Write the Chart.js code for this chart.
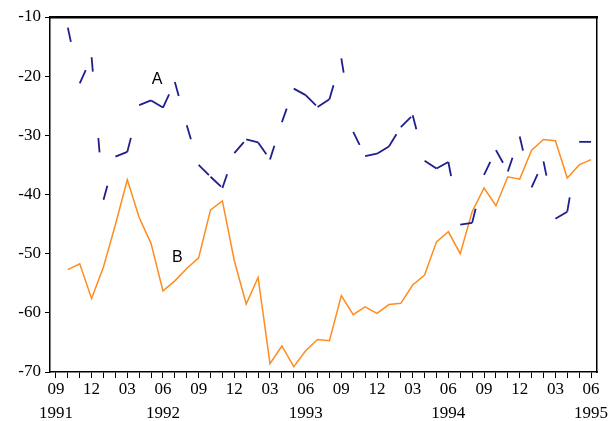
<!DOCTYPE html>
<html>
<head>
<meta charset="utf-8">
<script src="https://cdn.jsdelivr.net/npm/chart.js@4.4.1/dist/chart.umd.min.js"></script>
<style>
  html, body { margin: 0; padding: 0; background: #ffffff; }
  #wrap { width: 611px; height: 421px; position: relative; }
</style>
</head>
<body>
<div id="wrap"><canvas id="c" width="611" height="421"></canvas></div>
<script>
// Monthly categories, Sep 1991 .. Jun 1995
const categories = [
  '1991-09','1991-10','1991-11','1991-12',
  '1992-01','1992-02','1992-03','1992-04','1992-05','1992-06','1992-07','1992-08','1992-09','1992-10','1992-11','1992-12',
  '1993-01','1993-02','1993-03','1993-04','1993-05','1993-06','1993-07','1993-08','1993-09','1993-10','1993-11','1993-12',
  '1994-01','1994-02','1994-03','1994-04','1994-05','1994-06','1994-07','1994-08','1994-09','1994-10','1994-11','1994-12',
  '1995-01','1995-02','1995-03','1995-04','1995-05','1995-06'
];

// Series A (dashed, navy)
const seriesA = [
  null, -11.8, -21.2, -16.8,
  -40.9, -33.6, -32.8, -24.9, -24.1, -25.3, -21.0, -28.3, -35.0, -37.0, -38.9, -33.0,
  -30.7, -31.2, -34.1, -27.8, -22.1, -23.2, -25.2, -23.9, -17.0, -29.4, -33.5, -33.1,
  -31.9, -28.6, -26.6, -34.3, -35.6, -34.5, -45.1, -44.8, -36.7, -32.5, -36.1, -30.2,
  -38.8, -34.4, -44.1, -42.9, -31.1, -31.1
];

// Series B (solid, orange)
const seriesB = [
  null, -52.7, -51.7, -57.6,
  -52.2, -45.1, -37.5, -43.9, -48.3, -56.3, -54.6, -52.5, -50.7, -42.6, -41.1, -51.2,
  -58.5, -54.0, -68.6, -65.6, -69.1, -66.4, -64.5, -64.7, -57.1, -60.3, -59.0, -60.1,
  -58.6, -58.4, -55.3, -53.6, -48.0, -46.3, -50.0, -42.9, -38.9, -41.9, -37.0, -37.4,
  -32.5, -30.7, -30.9, -37.2, -35.0, -34.1
];

// Month tick labels shown every 3 months, and year labels under selected months
const labelledMonths = ['03', '06', '09', '12'];
const yearTickCats = ['1991-09', '1992-06', '1993-06', '1994-06', '1995-06'];
const yearTickText = ['1991', '1992', '1993', '1994', '1995'];

const yTicks = [-70, -60, -50, -40, -30, -20, -10];

const serif = "'Liberation Serif', 'Times New Roman', serif";
const sans = "'Liberation Sans', Arial, sans-serif";

const seriesLabels = {
  id: 'seriesLabels',
  afterDatasetsDraw(chart, args, opts) {
    const ctx = chart.ctx;
    const xs = chart.scales.x, ys = chart.scales.y;
    ctx.save();
    ctx.font = opts.font;
    ctx.fillStyle = '#000';
    ctx.textAlign = 'center';
    ctx.textBaseline = 'middle';
    for (const a of opts.items) {
      ctx.fillText(a.text, xs.getPixelForValue(a.x), ys.getPixelForValue(a.y));
    }
    ctx.restore();
  }
};

new Chart(document.getElementById('c'), {
  type: 'line',
  data: {
    labels: categories,
    datasets: [
      {
        label: 'A',
        data: seriesA,
        borderColor: '#1e1e8c',
        borderWidth: 1.8,
        borderDash: [14.5, 66.5],
        pointRadius: 0,
        tension: 0,
        fill: false,
        segment: {
          borderDashOffset: ctx => (ctx.p0DataIndex % 2) ? 0.001 : 0
        }
      },
      {
        label: 'B',
        data: seriesB,
        borderColor: '#ff8c1e',
        borderWidth: 1.5,
        pointRadius: 0,
        tension: 0,
        fill: false
      }
    ]
  },
  options: {
    responsive: false,
    animation: false,
    devicePixelRatio: 1,
    layout: { padding: { top: 17, right: 14, bottom: 0, left: 0 } },
    plugins: {
      legend: { display: false },
      tooltip: { enabled: false },
      seriesLabels: {
        font: "16px " + sans,
        items: [
          { text: 'A', x: 8.5, y: -20.6 },
          { text: 'B', x: 10.2, y: -50.7 }
        ]
      }
    },
    scales: {
      x: {
        type: 'category',
        position: 'bottom',
        offset: true,
        grid: {
          display: true,
          drawOnChartArea: false,
          drawTicks: true,
          tickLength: 6,
          color: '#000',
          lineWidth: 1
        },
        border: { display: true, color: '#000', width: 1.5 },
        ticks: {
          autoSkip: false,
          maxRotation: 0,
          minRotation: 0,
          padding: 0,
          color: '#000',
          font: { family: serif, size: 17, lineHeight: 1.38 },
          callback: function (value, index) {
            const cat = categories[index];
            const m = cat.slice(5);
            if (labelledMonths.indexOf(m) < 0) return '';
            const yi = yearTickCats.indexOf(cat);
            return yi >= 0 ? [m, yearTickText[yi]] : m;
          }
        },
        afterFit: s => { s.height = 49; }
      },
      xTop: {
        type: 'category',
        position: 'top',
        offset: true,
        grid: { display: true, drawOnChartArea: false, drawTicks: false, color: 'rgba(0,0,0,0)' },
        border: { display: true, color: '#000', width: 2.5 },
        ticks: { display: false },
        afterFit: s => { s.height = 0; }
      },
      y: {
        type: 'linear',
        position: 'left',
        min: -70,
        max: -10,
        afterBuildTicks: s => { s.ticks = yTicks.map(v => ({ value: v })); },
        grid: {
          display: true,
          drawOnChartArea: false,
          drawTicks: true,
          tickLength: 5,
          color: '#000',
          lineWidth: 1
        },
        border: { display: true, color: '#000', width: 1.5 },
        ticks: {
          color: '#000',
          padding: 4,
          font: { family: serif, size: 17 },
          callback: v => String(v)
        },
        afterFit: s => { s.width = 50; }
      },
      yRight: {
        type: 'linear',
        position: 'right',
        min: -70,
        max: -10,
        grid: { display: true, drawOnChartArea: false, drawTicks: false, color: 'rgba(0,0,0,0)' },
        border: { display: true, color: '#000', width: 1.5 },
        ticks: { display: false },
        afterFit: s => { s.width = 0; }
      }
    }
  },
  plugins: [seriesLabels]
});
</script>
</body>
</html>
